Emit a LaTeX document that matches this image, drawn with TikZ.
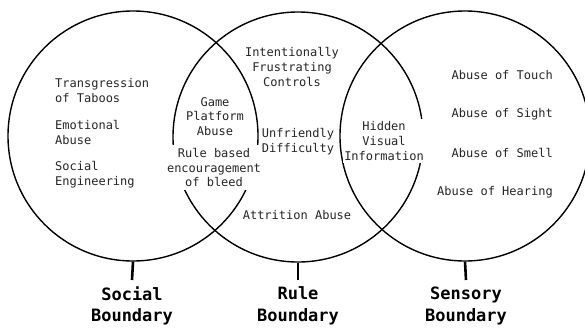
\documentclass[tikz,border=0pt]{standalone}
\usepackage{fontspec}
\setmonofont{DejaVu Sans Mono}
\begin{document}
\begin{tikzpicture}[x=1pt,y=-1pt,
  ring/.style={circle, draw=black, line width=1.4pt, minimum size=250pt, inner sep=0pt},
  item/.style={font=\ttfamily\fontsize{12}{14.6}\selectfont, text=black!85, inner sep=0pt, align=center},
  cover/.style={item, fill=white, inner xsep=1pt, inner ysep=3pt},
  bound/.style={font=\ttfamily\bfseries\fontsize{17}{21.5}\selectfont, align=center, inner sep=0pt},
  tick/.style={line width=2.6pt}]
\useasboundingbox (0,0) rectangle (585,327);
\clip (0,0) rectangle (585,327);
\fill[white] (0,0) rectangle (585,327);
% boundaries
\node[ring] (social) at (133,136) {};
\node[ring] (rule) at (298,137) {};
\node[ring] (sensory) at (465,136) {};
% left region
\node[item, anchor=west, align=left] (taboo) at (55,90.5) {Transgression\\of Taboos};
\node[item, anchor=west, align=left] (emo) at (55,132.5) {Emotional\\Abuse};
\node[item, anchor=west, align=left] (eng) at (55,174.5) {Social\\Engineering};
% social/rule overlap
\node[item] (game) at (215,116.5) {Game\\Platform\\Abuse};
\node[cover] (bleed) at (214,167.5) {Rule based\\encouragement\\of bleed};
% rule region
\node[item] (intent) at (292,67) {Intentionally\\Frustrating\\Controls};
\node[item] (unfr) at (298,141.5) {Unfriendly\\Difficulty};
\node[item] (attr) at (297,215) {Attrition Abuse};
% rule/sensory overlap
\node[cover] (hidden) at (384,141) {Hidden\\Visual\\Information};
% sensory region
\node[item, anchor=east] (touch) at (553,75) {Abuse of Touch};
\node[item, anchor=east] (sight) at (553,114) {Abuse of Sight};
\node[item, anchor=east] (smell) at (553,153) {Abuse of Smell};
\node[item, anchor=east] (hear) at (553,192) {Abuse of Hearing};
% labels
\node[bound] (sl) at (132,306) {Social\\Boundary};
\node[bound] (rl) at (298,306) {Rule\\Boundary};
\node[bound] (el) at (466,306) {Sensory\\Boundary};
\coordinate (st) at (132,280);
\coordinate (rt) at (298,280);
\coordinate (et) at (466,280);
\draw[tick] (social.south) -- (st);
\draw[tick] (rule.south) -- (rt);
\draw[tick] (sensory.south) -- (et);
\end{tikzpicture}
\end{document}
